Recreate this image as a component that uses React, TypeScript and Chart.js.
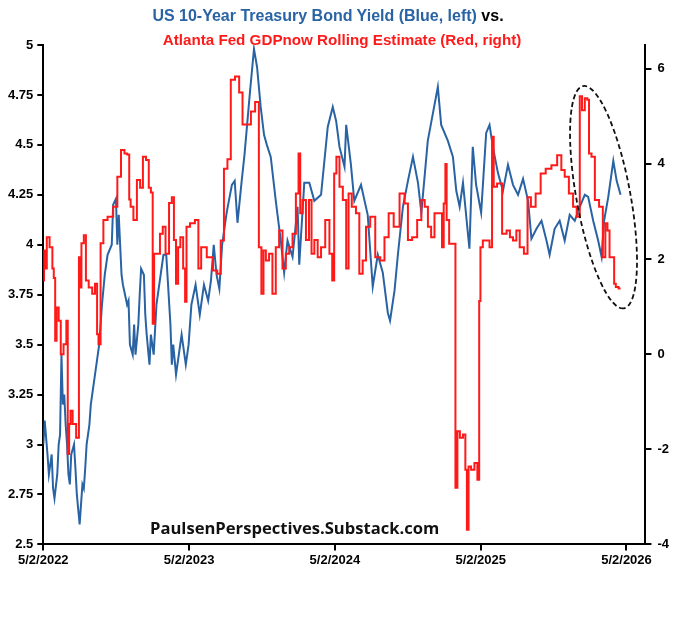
import React, { useEffect, useRef } from "react";
import { Chart, registerables } from "chart.js";
Chart.register(...registerables);

// [weeks since 5/2/2022, 10-yr yield %]
const blueSeries: [number, number][] = [
  [0,3.0],[0.5,3.12],[1.5,2.95],[2,2.85],[3,2.95],[3.5,2.78],[4,2.73],[5,2.85],[5.5,3.0],[6,3.05],[6.5,3.45],[7,3.2],[7.5,3.25],[8,3.1],[8.5,3.0],[9,2.85],[9.5,2.8],[10,2.95],[11,3.0],[11.5,2.88],[12,2.75],[13,2.6],[14,2.8],[14.5,2.78],[15,2.88],[15.5,3.0],[16.5,3.1],[17,3.2],[18,3.3],[19,3.4],[20,3.5],[21,3.7],[22,3.85],[23,3.95],[24.5,4.0],[25,4.2],[26,4.23],[26.5,4.0],[27,4.15],[28,3.85],[28.5,3.8],[30,3.7],[30.5,3.72],[31,3.5],[32,3.45],[32.5,3.6],[33,3.45],[34,3.6],[34.5,3.75],[35,3.88],[36,3.85],[36.5,3.65],[37,3.55],[38,3.4],[38.5,3.55],[39.5,3.45],[40.5,3.7],[42,3.85],[43,3.95],[44,3.95],[45.5,3.6],[46,3.4],[46.5,3.5],[47.5,3.35],[48.5,3.45],[49.5,3.55],[51,3.4],[52,3.5],[53,3.7],[54.5,3.8],[56,3.65],[57.5,3.8],[59,3.72],[60,3.82],[61,4.0],[62,3.85],[63,3.78],[64,4.0],[65.5,4.15],[66,4.19],[67.5,4.3],[68.5,4.32],[69.5,4.11],[71,4.32],[72,4.45],[73,4.61],[74,4.77],[75.4,4.98],[76.5,4.89],[77.8,4.69],[79,4.55],[80,4.5],[81.4,4.44],[83.2,4.22],[85,4.02],[86.2,3.86],[87.4,4.02],[89.2,3.94],[91,4.19],[91.6,3.9],[93.4,4.31],[95.2,4.31],[97,4.22],[99.4,4.25],[101.8,4.59],[103.6,4.69],[104.8,4.62],[106,4.49],[107.8,4.39],[108.4,4.6],[110.1,4.4],[111.3,4.22],[113.7,4.3],[116.1,4.15],[117.9,3.79],[119.7,3.95],[121.5,3.86],[123.3,3.66],[124.1,3.62],[125.7,3.77],[126.9,3.95],[128.7,4.19],[130.5,4.32],[132.3,4.44],[134.1,4.31],[135.3,4.16],[137.6,4.52],[138.8,4.61],[141.2,4.79],[142.4,4.6],[144.8,4.52],[146.6,4.44],[147.8,4.27],[149,4.19],[150.2,4.31],[152.5,3.98],[153.7,4.49],[154.9,4.3],[156.7,4.16],[158.5,4.56],[159.7,4.6],[160.9,4.49],[162.7,4.36],[164.5,4.27],[166.3,4.4],[168.1,4.3],[169.9,4.25],[171.7,4.33],[173.5,4.22],[174.7,4.03],[176.5,4.08],[178.3,4.12],[180.1,4.02],[181.2,3.95],[183,4.08],[184.8,4.12],[186.6,4.02],[188.4,4.15],[190.2,4.12],[192,4.19],[193.8,4.25],[195,4.24],[196.8,4.12],[198.6,4.02],[199.8,3.94],[200.7,4.12],[202.2,4.24],[204,4.42],[205.2,4.32],[206.6,4.25],
];

// [weeks since 5/2/2022, GDPnow estimate %]
const redSeries: [number, number][] = [
  [0,1.55],[0.5,2.18],[1,1.8],[1.5,2.46],[3,2.25],[3.5,1.8],[4,1.6],[4.5,0.28],[5,0.98],[6,0.7],[6.5,0.0],[8,0.21],[8.5,0.7],[9,-2.1],[9.5,-1.47],[10,-1.19],[11,-1.47],[12.5,-1.76],[13,2.04],[13.3,1.4],[14,2.33],[15,2.5],[15.5,1.55],[17,1.4],[18,1.27],[19,1.48],[19.5,0.42],[20,0.21],[21,2.33],[22,2.82],[24,2.89],[26,3.1],[27,3.73],[28.6,4.29],[29.5,4.22],[30.5,4.2],[31,3.25],[31.5,3.1],[33,2.82],[34,3.66],[35.3,3.5],[36,4.15],[37.5,4.08],[38,3.5],[39,3.4],[39.3,0.64],[40,2.11],[41,2.11],[42.5,2.53],[43,2.68],[44.5,2.11],[45.5,3.18],[46.5,3.3],[47,2.4],[48,1.48],[48.5,2.25],[49.6,2.46],[50.5,1.8],[51,1.1],[51.5,2.68],[53.5,2.75],[55,2.82],[56,1.8],[57,2.25],[60,2.04],[61.5,1.76],[63,1.69],[64,2.39],[65.3,3.9],[66.5,4.1],[67.7,5.77],[69.5,5.84],[70.7,5.5],[71.9,4.83],[73.7,4.83],[74.9,5.1],[76.7,5.3],[77.6,2.25],[78.5,1.27],[79.1,2.18],[80.2,1.97],[81.4,2.11],[82.6,1.27],[83.8,2.25],[85,2.6],[86.2,1.8],[87.4,2.11],[88.6,2.25],[89.8,2.53],[91,3.38],[91.7,4.22],[92.2,2.96],[93.4,3.24],[94.6,2.4],[95.6,3.24],[96.4,2.11],[97.6,2.4],[98.8,2.04],[100,2.25],[101.8,2.82],[103,2.11],[103.8,1.55],[104.4,3.8],[105.4,4.15],[106.6,3.52],[107.8,3.24],[109,1.8],[109.5,3.38],[111.3,3.1],[112.5,2.96],[113.7,1.69],[114.9,1.97],[116.1,2.68],[117.9,2.89],[119.7,2.04],[121.5,1.97],[122.7,2.46],[124.5,2.96],[126.3,2.68],[128.7,3.38],[129.9,3.17],[131.1,2.4],[132.9,2.46],[134.7,2.82],[135.9,3.24],[137.1,3.1],[138.2,2.68],[139.4,2.46],[140.6,2.96],[142.4,2.96],[143,2.25],[143.6,3.17],[144.2,4.0],[144.5,2.82],[146,2.32],[147.2,2.32],[147.8,-2.81],[148.6,-1.62],[149.6,-1.76],[150.8,-1.69],[151.3,-2.43],[151.9,-3.69],[152.5,-2.36],[153.7,-2.43],[154.9,-2.29],[155.8,-2.64],[156.2,1.12],[156.7,2.25],[157.9,2.39],[159.1,2.39],[160.3,2.25],[160.9,4.57],[161.5,3.52],[163.3,3.59],[165.1,2.53],[166.5,2.6],[167.5,2.46],[168.7,2.39],[169.9,2.6],[171.1,2.25],[172.9,2.11],[173.7,3.3],[175.3,3.1],[177.1,3.38],[178.9,3.8],[180.7,3.9],[183,3.97],[184.8,4.18],[186,3.87],[187.2,3.73],[189,3.38],[190.2,3.1],[191.6,2.89],[192.4,5.42],[193.2,5.13],[194.4,5.38],[195,5.35],[195.6,4.22],[196.8,4.15],[198,3.24],[199.8,3.1],[200.7,2.04],[201.6,2.75],[202.2,2.6],[203.1,2.04],[204,2.04],[204.6,1.48],[205.2,1.41],[206.6,1.38],
];

const xTickWeeks = [0, 52.18, 104.36, 156.54, 208.72];
const xTickLabels = ["5/2/2022", "5/2/2023", "5/2/2024", "5/2/2025", "5/2/2026"];
const leftTicks = [2.5, 2.75, 3, 3.25, 3.5, 3.75, 4, 4.25, 4.5, 4.75, 5];
const rightTicks = [-4, -2, 0, 2, 4, 6];

const FONT = "'Liberation Sans', Arial, sans-serif";

export default function App() {
  const ref = useRef<HTMLCanvasElement>(null);
  useEffect(() => {
    document.body.style.margin = "0";
    const ellipse = {
      id: "ellipse",
      afterDatasetsDraw(chart: any) {
        const { ctx, scales } = chart;
        const cx = scales.x.getPixelForValue(200.5);
        const cy = scales.y2.getPixelForValue(3.3);
        ctx.save();
        ctx.beginPath();
        ctx.setLineDash([5, 3]);
        ctx.lineWidth = 1.8;
        ctx.strokeStyle = "#111";
        ctx.ellipse(cx, cy, 113, 27, (79.6 * Math.PI) / 180, 0, Math.PI * 2);
        ctx.stroke();
        ctx.restore();
      },
    };
    const tickFont = { family: FONT, size: 13, weight: "bold" };
    const grid = { drawOnChartArea: false, tickLength: 6, color: "#000", lineWidth: 2 };
    const border = { color: "#000", width: 2 };
    const chart = new Chart(ref.current!, {
      type: "line",
      data: {
        datasets: [
          {
            data: redSeries.map(([x, y]) => ({ x, y })),
            borderColor: "#ff1a1a",
            borderWidth: 2,
            pointRadius: 0,
            stepped: "middle",
            yAxisID: "y2",
          },
          {
            data: blueSeries.map(([x, y]) => ({ x, y })),
            borderColor: "#2a63a3",
            borderWidth: 2,
            pointRadius: 0,
            yAxisID: "y",
          },
        ],
      },
      options: {
        animation: false,
        responsive: false,
        layout: { padding: { top: 45, bottom: 64, left: 4, right: 5 } },
        plugins: { legend: { display: false }, tooltip: { enabled: false } },
        scales: {
          x: {
            type: "linear",
            min: 0,
            max: 215.5,
            afterBuildTicks: (s: any) => { s.ticks = xTickWeeks.map((v) => ({ value: v })); },
            ticks: {
              callback: (v: any) => xTickLabels[xTickWeeks.indexOf(Number(v))] ?? "",
              color: "#000", font: tickFont, maxRotation: 0, autoSkip: false, padding: 2,
            },
            grid, border,
          },
          y: {
            position: "left",
            min: 2.5,
            max: 5,
            afterBuildTicks: (s: any) => { s.ticks = leftTicks.map((v) => ({ value: v })); },
            ticks: { color: "#000", font: tickFont, padding: 4, callback: (v: any) => String(v) },
            grid, border,
          },
          y2: {
            position: "right",
            min: -4,
            max: 6.5,
            afterBuildTicks: (s: any) => { s.ticks = rightTicks.map((v) => ({ value: v })); },
            ticks: { color: "#000", font: tickFont, padding: 6, callback: (v: any) => String(v) },
            grid, border,
          },
        },
      },
      plugins: [ellipse],
    } as any);
    return () => chart.destroy();
  }, []);
  const tStyle: React.CSSProperties = {
    position: "absolute", width: 680, textAlign: "center",
    fontFamily: "'Liberation Sans Narrow', 'Liberation Sans', sans-serif", fontWeight: "bold",
  };
  return (
    <div style={{ position: "relative", width: 680, height: 634, background: "#fff" }}>
      <canvas ref={ref} width={680} height={634} style={{ position: "absolute", left: 0, top: 0 }} />
      <div style={{ ...tStyle, left: -12, top: 7, fontSize: 16 }}>
        <span style={{ color: "#2a63a3" }}>US 10-Year Treasury Bond Yield (Blue, left)</span>
        <span style={{ color: "#000" }}> vs.</span>
      </div>
      <div style={{ ...tStyle, left: 2, top: 31, fontSize: 15.2, color: "#ff1a1a" }}>Atlanta Fed GDPnow Rolling Estimate (Red, right)</div>
      <div style={{ position: "absolute", left: 150, top: 516, fontFamily: "'Open Sans', sans-serif", fontWeight: "bold", fontSize: 16.6, color: "#111" }}>
        PaulsenPerspectives.Substack.com
      </div>
    </div>
  );
}
